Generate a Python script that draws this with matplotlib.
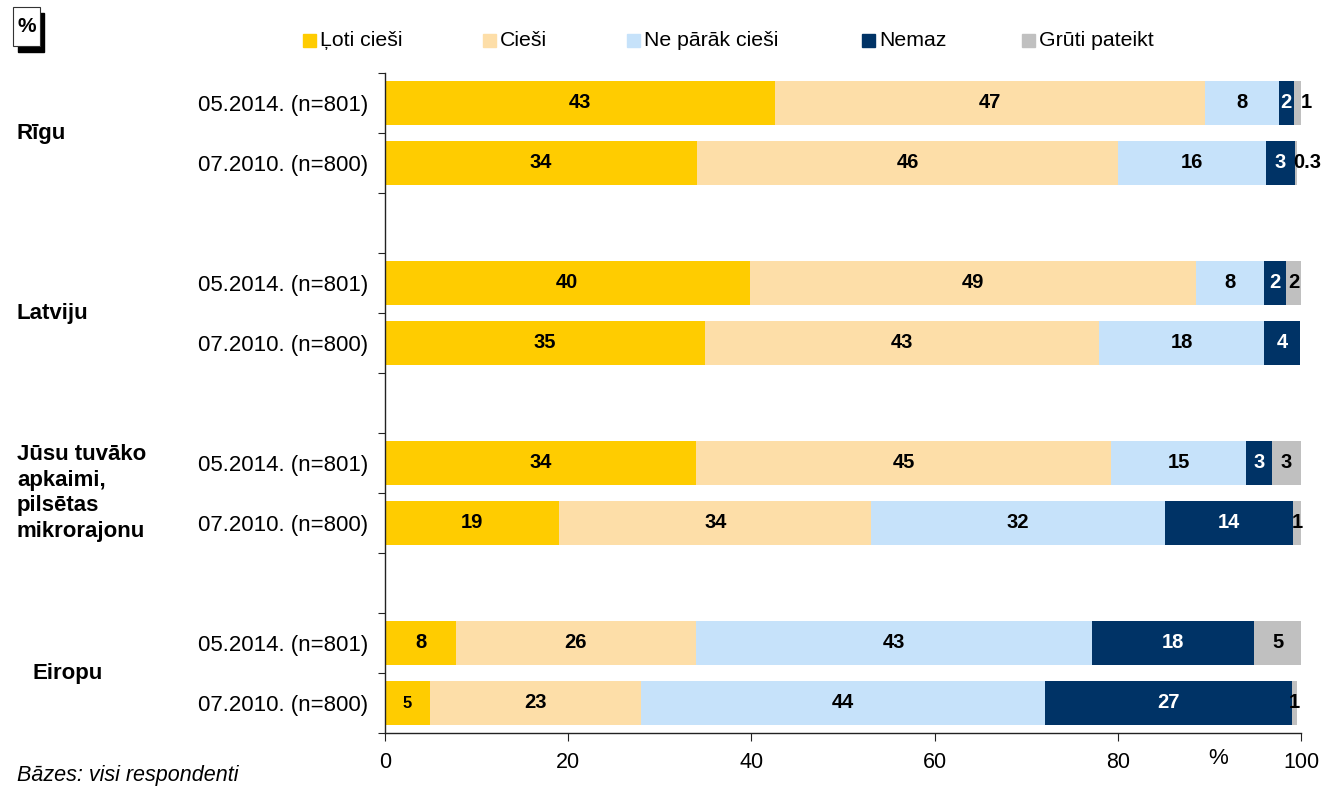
import matplotlib
matplotlib.use("Agg")
import matplotlib.pyplot as plt
from matplotlib.patches import Rectangle
from matplotlib.transforms import blended_transform_factory
import numpy as np

plt.rcParams['font.family'] = ['Liberation Sans', 'DejaVu Sans']

# ---------------- data ----------------
series = ["Ļoti cieši", "Cieši", "Ne pārāk cieši", "Nemaz", "Grūti pateikt"]
groups = ["Rīgu", "Latviju", "Jūsu tuvāko\napkaimi,\npilsētas\nmikrorajonu", "Eiropu"]
waves = ["05.2014. (n=801)", "07.2010. (n=800)"]

loti = [42.6, 34.1, 39.8, 34.9, 34.0, 19.0, 7.8, 4.9]
ciesi = [46.9, 45.9, 48.7, 43.1, 45.3, 34.1, 26.1, 23.1]
ne_parak = [8.1, 16.2, 7.5, 18.0, 14.7, 32.0, 43.3, 44.0]
nemaz = [1.6, 3.1, 2.4, 3.9, 2.8, 14.0, 17.7, 27.0]
gruti = [0.9, 0.3, 1.6, 0.0, 3.2, 1.0, 5.1, 0.6]

x_ticks = [0, 20, 40, 60, 80, 100]

# ---------------- style ----------------
colors = ["#FFCC00", "#FDDEA8", "#C6E2FA", "#003366", "#C0C0C0"]
text_colors = ["black", "black", "black", "white", "black"]
W, H = 1323, 789
FS = 16
FS_DATA = 14.5

fig = plt.figure(figsize=(W / 100, H / 100), dpi=100)
ax = fig.add_axes([385 / W, 56 / H, 916 / W, 660 / H])

data = [loti, ciesi, ne_parak, nemaz, gruti]
n_bars = len(loti)
# positions: two bars per group, one blank slot between groups
ypos = []
for g in range(len(groups)):
    for w in range(len(waves)):
        ypos.append(g * 3 + w)
ypos = np.array(ypos, dtype=float)

# extra label nudges (points) for tiny segments at bar end, and smaller labels
nudges = {(0, 4): 6, (1, 4): 8}
small = {(7, 0): 12}

left = np.zeros(n_bars)
for s, vals in enumerate(data):
    vals = np.array(vals, dtype=float)
    ax.barh(ypos, vals, left=left, height=0.72, color=colors[s],
            edgecolor='none', label=series[s])
    for i, v in enumerate(vals):
        if v <= 0:
            continue
        lab = f"{v:.1f}" if v < 0.5 else str(int(v + 0.5))
        cx = left[i] + v / 2
        dx = nudges.get((i, s), 0)
        ax.annotate(lab, (cx, ypos[i]), xytext=(dx, 0), textcoords='offset points',
                    ha='center', va='center', fontsize=small.get((i, s), FS_DATA),
                    fontweight='bold', color=text_colors[s])
    left += vals

ax.set_xlim(0, 100)
ax.set_ylim(10.5, -0.5)

for sp in ['top', 'right']:
    ax.spines[sp].set_visible(False)
for sp in ['left', 'bottom']:
    ax.spines[sp].set_color('#222222')
    ax.spines[sp].set_linewidth(1.0)

ax.set_xticks(x_ticks)
ax.set_xticklabels([str(t) for t in x_ticks], fontsize=15.5)
ax.tick_params(axis='x', direction='out', length=6, pad=8, color='#222222')

ax.set_yticks(np.arange(-0.5, 11, 1.0))
ax.set_yticklabels([])
ax.tick_params(axis='y', which='major', direction='out', length=5, color='#222222')
ax.set_yticks(ypos, minor=True)
ax.set_yticklabels([waves[i % 2] for i in range(n_bars)], minor=True, fontsize=FS)
ax.tick_params(axis='y', which='minor', length=0, pad=12)

# group labels
tr = blended_transform_factory(fig.transFigure, ax.transData)
group_x = [17, 17, 17, 33]
for g, name in enumerate(groups):
    ax.text(group_x[g] / W, g * 3 + 0.5, name, transform=tr, ha='left', va='center',
            fontsize=FS, fontweight='bold', linespacing=1.28)

# legend (manual)
leg_x = [303, 483, 627, 862, 1022]
for s, name in enumerate(series):
    fig.add_artist(Rectangle((leg_x[s] / W, 1 - 47 / H), 13 / W, 13 / H,
                             transform=fig.transFigure, color=colors[s]))
    fig.text((leg_x[s] + 17) / W, 1 - 40 / H, name, ha='left', va='center', fontsize=15.3)

# "%" box at top-left
fig.add_artist(Rectangle((18 / W, 1 - 52 / H), 26 / W, 39 / H,
                         transform=fig.transFigure, color='black'))
fig.add_artist(Rectangle((13 / W, 1 - 46 / H), 27 / W, 39 / H,
                         transform=fig.transFigure, facecolor='white',
                         edgecolor='#333333', linewidth=0.8))
fig.text(26.5 / W, 1 - 27 / H, "%", ha='center', va='center', fontsize=15, fontweight='bold')

fig.text(1218 / W, 1 - 758 / H, "%", ha='center', va='center', fontsize=FS)
fig.text(17 / W, 1 - 776 / H, "Bāzes: visi respondenti", ha='left', va='center',
         fontsize=15.5, style='italic')

fig.savefig("out.png", dpi=100)
